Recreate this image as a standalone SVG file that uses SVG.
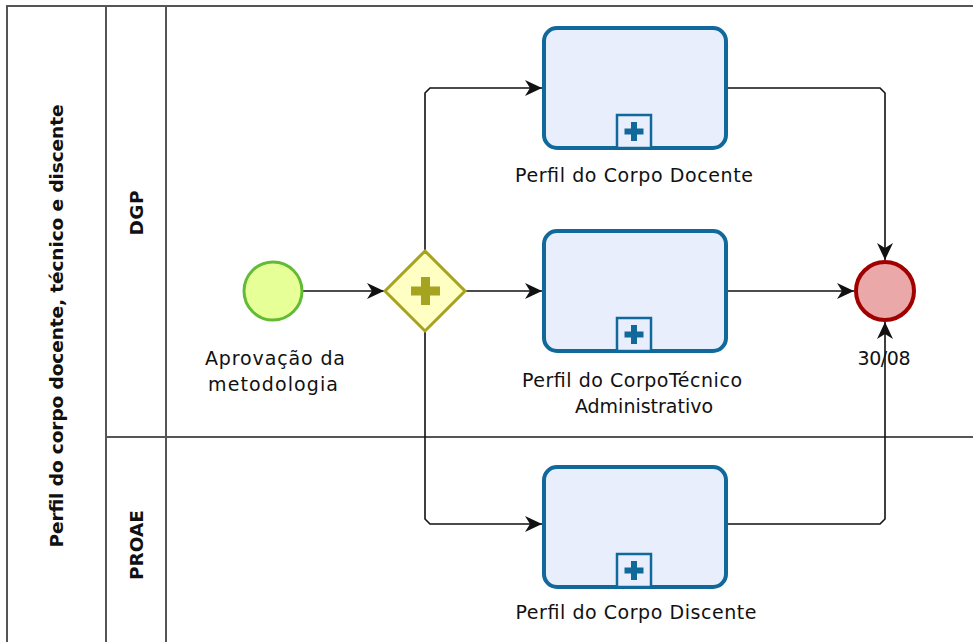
<svg xmlns="http://www.w3.org/2000/svg" width="973" height="642" viewBox="0 0 973 642">
<style>
.lbl{font-family:"DejaVu Sans","Open Sans",sans-serif;font-size:19px;fill:#111;text-anchor:middle}
.hdr{font-family:"DejaVu Sans","Open Sans",sans-serif;font-size:18.5px;font-weight:bold;fill:#111;text-anchor:middle}
.task{fill:#E9EEFC;stroke:#10699A;stroke-width:4}
.mk{fill:#E9EEFC;stroke:#10699A;stroke-width:2.5}
.plus{fill:#10699A}
.flow{fill:none;stroke:#111;stroke-width:1.6}
.pool{fill:#fff;stroke:#555;stroke-width:2}
</style>
<defs>
<marker id="arr" markerWidth="20" markerHeight="20" refX="18" refY="10" orient="auto" markerUnits="userSpaceOnUse">
<path d="M1,2 L18,10 L1,18 L6,10 z" fill="#111"/>
</marker>
</defs>
<rect width="973" height="642" fill="#fff"/>
<g id="pool">
<rect class="pool" x="7" y="6" width="980" height="650"/>
<line x1="106" y1="6" x2="106" y2="642" stroke="#555" stroke-width="2"/>
<line x1="166" y1="6" x2="166" y2="642" stroke="#555" stroke-width="2"/>
<line x1="106" y1="437" x2="973" y2="437" stroke="#555" stroke-width="2"/>
<text class="hdr" transform="translate(63,326) rotate(-90)" textLength="443">Perfil do corpo docente, técnico e discente</text>
</g>
<g id="lane-dgp"><text class="hdr" transform="translate(143,213) rotate(-90)" textLength="45">DGP</text></g>
<g id="lane-proae"><text class="hdr" transform="translate(143,545) rotate(-90)" textLength="70">PROAE</text></g>
<g id="connectors">
<path class="flow" d="M303,291 H384" marker-end="url(#arr)"/>
<path class="flow" d="M425,251 V93 L430,88 H542" marker-end="url(#arr)"/>
<path class="flow" d="M465,291 H542" marker-end="url(#arr)"/>
<path class="flow" d="M425,331 V519 L430,524 H542" marker-end="url(#arr)"/>
<path class="flow" d="M727,88 H880 L885,93 V260" marker-end="url(#arr)"/>
<path class="flow" d="M727,291 H854" marker-end="url(#arr)"/>
<path class="flow" d="M727,524 H880 L885,519 V322" marker-end="url(#arr)"/>
</g>
<g id="start">
<circle cx="273" cy="291" r="29" fill="#E6FF97" stroke="#62BB35" stroke-width="3"/>
<text class="lbl" x="275" y="365" textLength="140">Aprovação da</text>
<text class="lbl" x="273" y="391" textLength="130">metodologia</text>
</g>
<g id="gateway">
<polygon points="425,251 465,291 425,331 385,291" fill="#FFFFC4" stroke="#A6A320" stroke-width="3"/>
<rect x="421" y="277" width="9" height="28" fill="#A6A320"/>
<rect x="411" y="286.5" width="29" height="9" fill="#A6A320"/>
</g>
<g id="task-docente">
<rect class="task" x="544" y="28" width="182" height="120" rx="13"/>
<rect class="mk" x="617" y="115" width="34" height="33"/>
<rect class="plus" x="631" y="122" width="6" height="19"/><rect class="plus" x="624.5" y="128.5" width="19" height="6"/>
<text class="lbl" x="634" y="182" textLength="238">Perfil do Corpo Docente</text>
</g>
<g id="task-tecnico">
<rect class="task" x="544" y="231" width="182" height="120" rx="13"/>
<rect class="mk" x="617" y="318" width="34" height="33"/>
<rect class="plus" x="631" y="325" width="6" height="19"/><rect class="plus" x="624.5" y="331.5" width="19" height="6"/>
<text class="lbl" x="632" y="387" textLength="220">Perfil do CorpoTécnico</text>
<text class="lbl" x="644" y="413">Administrativo</text>
</g>
<g id="task-discente">
<rect class="task" x="544" y="467" width="182" height="120" rx="13"/>
<rect class="mk" x="617" y="554" width="34" height="33"/>
<rect class="plus" x="631" y="561" width="6" height="19"/><rect class="plus" x="624.5" y="567.5" width="19" height="6"/>
<text class="lbl" x="636" y="619" textLength="241">Perfil do Corpo Discente</text>
</g>
<g id="end">
<circle cx="885" cy="291" r="29" fill="#EAA8A8" stroke="#A00000" stroke-width="4"/>
<text class="lbl" x="884" y="365" textLength="53">30/08</text>
</g>
</svg>
